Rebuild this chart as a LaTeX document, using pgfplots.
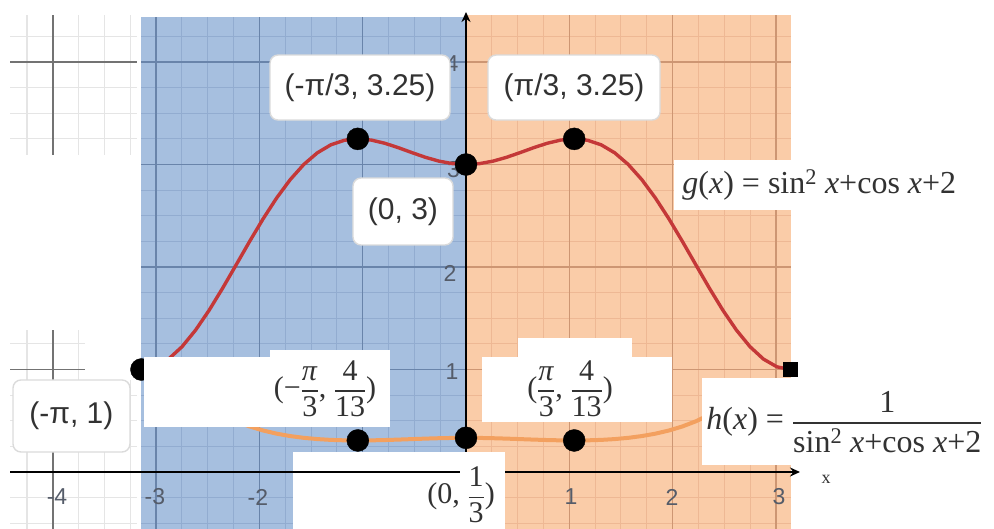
\documentclass[border=0pt]{standalone}
\usepackage{pgfplots}
\pgfplotsset{compat=1.18}
\usepackage{pgfplotstable}
\usepackage{amsmath}
\usepackage{fontspec}
\setmainfont{Liberation Serif}
\newfontfamily\lsans{Liberation Sans}
\usetikzlibrary{arrows.meta}

\definecolor{bluebg}{RGB}{166,191,223}
\definecolor{blueminor}{RGB}{146,172,208}
\definecolor{bluemajor}{RGB}{105,132,170}
\definecolor{orangebg}{RGB}{250,204,168}
\definecolor{orangeminor}{RGB}{238,184,148}
\definecolor{orangemajor}{RGB}{205,150,115}
\definecolor{gcurve}{RGB}{196,56,56}
\definecolor{hcurve}{RGB}{243,160,95}
\definecolor{labeltext}{RGB}{50,50,50}
\definecolor{ticktext}{RGB}{85,92,105}

\tikzset{
  faintminor/.style={draw=black!10, line width=1.2pt},
  faintmajor/.style={draw=black!55, line width=1.6pt},
  sanslabel/.style={font=\lsans\fontsize{30}{34}\selectfont, text=labeltext},
  seriflabel/.style={font=\fontsize{30}{34}\selectfont, text=labeltext},
  formula/.style={font=\fontsize{32}{36}\selectfont, text=labeltext},
  ticklab/.style={font=\lsans\fontsize{23}{26}\selectfont, text=ticktext},
  roundbox/.style={fill=white, draw=black!14, line width=1.4pt, rounded corners=8pt},
}

% stacked fraction set in the text font
\newcommand{\tfr}[2]{\ensuremath{\genfrac{}{}{1.5pt}{0}{\text{#1}}{\text{#2}}}}

% g(x) = sin^2 x + cos x + 2 on [-pi, pi]
\pgfplotstableread{
x g
-3.1416 1.0000
-3.0107 1.0256
-2.8798 1.1011
-2.7489 1.2226
-2.6180 1.3840
-2.4871 1.5772
-2.3562 1.7929
-2.2253 2.0206
-2.0944 2.2500
-1.9635 2.4709
-1.8326 2.6742
-1.7017 2.8524
-1.5708 3.0000
-1.4399 3.1135
-1.3090 3.1918
-1.1781 3.2362
-1.0472 3.2500
-0.9163 3.2382
-0.7854 3.2071
-0.6545 3.1639
-0.5236 3.1160
-0.3927 3.0703
-0.2618 3.0329
-0.1309 3.0085
0.0000 3.0000
0.1309 3.0085
0.2618 3.0329
0.3927 3.0703
0.5236 3.1160
0.6545 3.1639
0.7854 3.2071
0.9163 3.2382
1.0472 3.2500
1.1781 3.2362
1.3090 3.1918
1.4399 3.1135
1.5708 3.0000
1.7017 2.8524
1.8326 2.6742
1.9635 2.4709
2.0944 2.2500
2.2253 2.0206
2.3562 1.7929
2.4871 1.5772
2.6180 1.3840
2.7489 1.2226
2.8798 1.1011
3.0107 1.0256
3.1416 1.0000
}\gtable

% h(x) = 1 / g(x)
\pgfplotstableread{
x h
-2.3562 0.5578
-2.2253 0.4949
-2.0944 0.4444
-1.9635 0.4047
-1.8326 0.3739
-1.7017 0.3506
-1.5708 0.3333
-1.4399 0.3212
-1.3090 0.3133
-1.1781 0.3090
-1.0472 0.3077
-0.9163 0.3088
-0.7854 0.3118
-0.6545 0.3161
-0.5236 0.3209
-0.3927 0.3257
-0.2618 0.3297
-0.1309 0.3324
0.0000 0.3333
0.1309 0.3324
0.2618 0.3297
0.3927 0.3257
0.5236 0.3209
0.6545 0.3161
0.7854 0.3118
0.9163 0.3088
1.0472 0.3077
1.1781 0.3090
1.3090 0.3133
1.4399 0.3212
1.5708 0.3333
1.7017 0.3506
1.8326 0.3739
1.9635 0.4047
2.0944 0.4444
2.2253 0.4949
2.3562 0.5578
}\htable

\begin{document}
\begin{tikzpicture}
\begin{axis}[
  scale only axis, width=994pt, height=529pt,
  xmin=-4.511, xmax=5.111, ymin=-0.556, ymax=4.605,
  hide axis, clip=true, clip mode=individual,
]

% ---- faint grid to the left of the shaded strips
\pgfplotsinvokeforeach{-4.25,-3.75,-3.5,-3.25}{\draw[faintminor] (axis cs:#1,3.093) -- (axis cs:#1,4.459);}
\pgfplotsinvokeforeach{3.25,3.5,3.75,4.25}{\draw[faintminor] (axis cs:-4.414,#1) -- (axis cs:-3.185,#1);}
\draw[faintmajor] (axis cs:-4,3.093) -- (axis cs:-4,4.459);
\draw[faintmajor] (axis cs:-4.414,4) -- (axis cs:-3.185,4);
\pgfplotsinvokeforeach{-4.25,-3.75}{\draw[faintminor] (axis cs:#1,0.898) -- (axis cs:#1,1.385);}
\draw[faintminor] (axis cs:-4.414,1.25) -- (axis cs:-3.686,1.25);
\draw[faintmajor] (axis cs:-4.414,1) -- (axis cs:-3.686,1);
\pgfplotsinvokeforeach{-4.25,-3.75,-3.5,-3.25}{\draw[faintminor] (axis cs:#1,-0.556) -- (axis cs:#1,0.898);}
\pgfplotsinvokeforeach{-0.5,-0.25,0.25,0.5,0.75}{\draw[faintminor] (axis cs:-4.414,#1) -- (axis cs:-3.185,#1);}
\draw[faintmajor] (axis cs:-4,-0.556) -- (axis cs:-4,1.385);

% ---- shaded strips [-pi,0] and [0,pi]
\addplot[fill=bluebg, draw=none] coordinates {(-3.1416,-0.556) (-3.1416,4.439) (0,4.439) (0,-0.556)} -- cycle;
\addplot[fill=orangebg, draw=none] coordinates {(0,-0.556) (0,4.459) (3.1416,4.459) (3.1416,-0.556)} -- cycle;

\pgfplotsinvokeforeach{-2.75,-2.5,-2.25,-1.75,-1.5,-1.25,-0.75,-0.5,-0.25}{\draw[blueminor, line width=1pt] (axis cs:#1,-0.556) -- (axis cs:#1,4.439);}
\pgfplotsinvokeforeach{-0.5,-0.25,0.25,0.5,0.75,1.25,1.5,1.75,2.25,2.5,2.75,3.25,3.5,3.75,4.25}{\draw[blueminor, line width=1pt] (axis cs:-3.1416,#1) -- (axis cs:0,#1);}
\pgfplotsinvokeforeach{-3,-2,-1}{\draw[bluemajor, line width=1.5pt] (axis cs:#1,-0.556) -- (axis cs:#1,4.439);}
\pgfplotsinvokeforeach{1,2,3,4}{\draw[bluemajor, line width=1.5pt] (axis cs:-3.1416,#1) -- (axis cs:0,#1);}

\pgfplotsinvokeforeach{0.25,0.5,0.75,1.25,1.5,1.75,2.25,2.5,2.75}{\draw[orangeminor, line width=1pt] (axis cs:#1,-0.556) -- (axis cs:#1,4.459);}
\pgfplotsinvokeforeach{-0.5,-0.25,0.25,0.5,0.75,1.25,1.5,1.75,2.25,2.5,2.75,3.25,3.5,3.75,4.25}{\draw[orangeminor, line width=1pt] (axis cs:0,#1) -- (axis cs:3.1416,#1);}
\pgfplotsinvokeforeach{1,2,3}{\draw[orangemajor, line width=1.5pt] (axis cs:#1,-0.556) -- (axis cs:#1,4.459);}
\pgfplotsinvokeforeach{1,2,3,4}{\draw[orangemajor, line width=1.5pt] (axis cs:0,#1) -- (axis cs:3.1416,#1);}

% ---- vertical axis
\draw[black, line width=2pt, -{Stealth[length=10pt, width=9pt]}] (axis cs:0,0.195) -- (axis cs:0,4.488);

% ---- tick labels
\node[ticklab] at (axis cs:-3.959,-0.244) {-4};
\node[ticklab] at (axis cs:-3.011,-0.244) {-3};
\node[ticklab] at (axis cs:-2.014,-0.244) {-2};
\node[ticklab] at (axis cs:1.016,-0.244) {1};
\node[ticklab] at (axis cs:1.994,-0.244) {2};
\node[ticklab] at (axis cs:3.030,-0.244) {3};
\node[ticklab] at (axis cs:-0.136,0.976) {1};
\node[ticklab] at (axis cs:-0.155,1.941) {2};
\node[ticklab] at (axis cs:-0.120,2.950) {3};
\node[ticklab] at (axis cs:-0.136,3.980) {4};

% ---- curves
\addplot[gcurve, line width=3.4pt, line join=round] table[x=x, y=g] {\gtable};
\addplot[hcurve, line width=4pt, line join=round] table[x=x, y=h] {\htable};
\addplot[only marks, mark=*, mark size=11pt, mark options={fill=black, draw=black}] coordinates {(-3.1416,1)};

% ---- label boxes
\filldraw[roundbox] (axis cs:-1.897,3.434) rectangle (axis cs:-0.155,4.068);
\node[sanslabel] at (axis cs:-1.026,3.751) {(-π/3, 3.25)};
\filldraw[roundbox] (axis cs:0.213,3.434) rectangle (axis cs:1.878,4.068);
\node[sanslabel] at (axis cs:1.046,3.751) {(π/3, 3.25)};
\filldraw[roundbox] (axis cs:-1.094,2.215) rectangle (axis cs:-0.126,2.868);
\node[sanslabel] at (axis cs:-0.610,2.541) {(0, 3)};
\filldraw[roundbox] (axis cs:-4.385,0.195) rectangle (axis cs:-3.253,0.898);
\node[sanslabel] at (axis cs:-3.820,0.546) {(-π, 1)};

\fill[white] (axis cs:2.014,2.556) rectangle (axis cs:4.850,3.044);
\node[formula] at (axis cs:3.420,2.800) {\textit{g}(\textit{x}) = sin\textsuperscript{2} \textit{x}+cos \textit{x}+2};

\fill[white] (axis cs:-3.120,0.439) rectangle (axis cs:-1.897,1.122);
\fill[white] (axis cs:-1.897,0.439) rectangle (axis cs:-0.736,1.190);
\node[seriflabel] at (axis cs:-1.365,0.815) {(−\tfr{\textit{π}}{3}, \tfr{4}{13})};

\fill[white] (axis cs:0.155,0.488) rectangle (axis cs:1.994,1.122);
\fill[white] (axis cs:0.503,1.100) rectangle (axis cs:1.607,1.307);
\node[seriflabel] at (axis cs:1.007,0.815) {(\tfr{\textit{π}}{3}, \tfr{4}{13})};

\fill[white] (axis cs:2.285,0.068) rectangle (axis cs:5.111,0.917);
\node[formula, anchor=west, inner sep=0pt] at (axis cs:2.325,0.49) {\textit{h}(\textit{x}) = \tfr{1}{sin\textsuperscript{2} \textit{x}+cos \textit{x}+2}};

\fill[white] (axis cs:-1.675,-0.556) rectangle (axis cs:0.378,0.195);
\node[seriflabel] at (axis cs:-0.048,-0.224) {(0, \tfr{1}{3})};

% ---- horizontal axis
\draw[black, line width=2.4pt] (axis cs:-4.414,0) -- (axis cs:-0.058,0);
\draw[black, line width=2.4pt, -{Stealth[length=10pt, width=9pt]}] (axis cs:0.378,0) -- (axis cs:3.233,0);
\node[font=\fontsize{18}{20}\selectfont, text=labeltext] at (axis cs:3.485,-0.07) {x};

% ---- marked points
\addplot[only marks, mark=*, mark size=11pt, mark options={fill=black, draw=black}] coordinates {
  (-1.0472,3.25) (0,3) (1.0472,3.25) (-1.0472,0.3077) (0,0.3333) (1.0472,0.3077)};
\addplot[only marks, mark=square*, mark size=7pt, mark options={fill=black, draw=black}] coordinates {(3.1416,1)};

\end{axis}
\pgfresetboundingbox
\useasboundingbox (current axis.south west) rectangle (current axis.north east);
\end{tikzpicture}
\end{document}
